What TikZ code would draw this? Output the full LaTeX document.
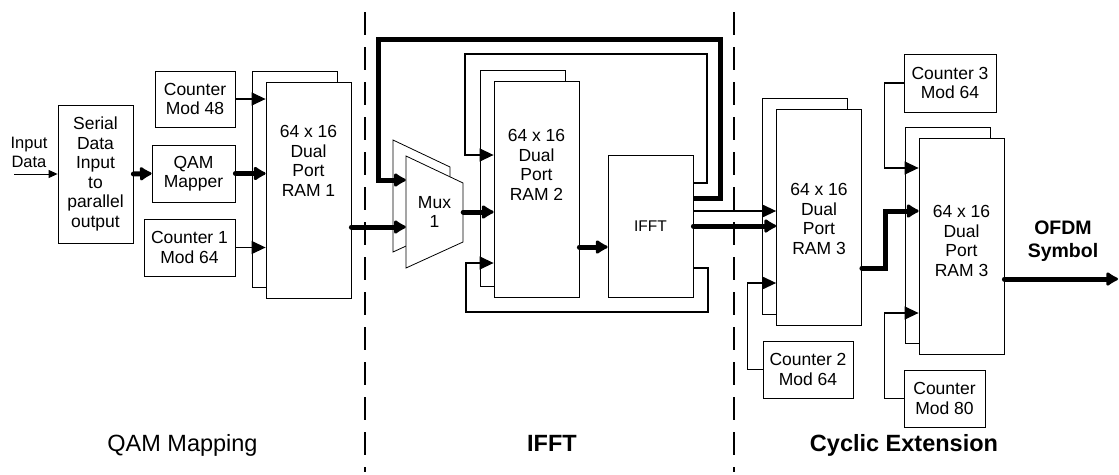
\documentclass[tikz,border=0pt]{standalone}
\usepackage{fontspec}
\setmainfont{Liberation Sans}
\usetikzlibrary{arrows.meta, calc, shadows}

\begin{document}
\begin{tikzpicture}[
    x=1pt, y=-1pt,
    box/.style={rectangle, draw, line width=0.8pt, fill=white, align=center, inner sep=0pt, font=\fontsize{17.5pt}{19.5pt}\selectfont},
    ram/.style={box, minimum width=85pt, minimum height=216pt, copy shadow={shadow xshift=-14pt, shadow yshift=11pt, draw=black, fill=white, line width=0.8pt}},
    ramtext/.style={align=center, inner sep=0pt, font=\fontsize{17.5pt}{19.5pt}\selectfont},
    muxbody/.style={draw, fill=white, line width=0.8pt},
    inarrow/.style={-{Triangle[length=9pt, width=8pt]}, line width=1pt},
    link/.style={-{Triangle[length=14pt, width=13pt]}, line width=1.2pt},
    bus/.style={-{Latex[length=14pt, width=17pt, round]}, line width=5pt, line cap=round},
    divider/.style={line width=2.8pt, dash pattern=on 23pt off 12pt},
    stage/.style={anchor=base, font=\fontsize{23.5pt}{28pt}\selectfont}
]
\useasboundingbox (0,0) rectangle (1119,474);

% Stage dividers
\draw[divider] (365,12) -- (365,472);
\draw[divider] (734,12) -- (734,472);

% QAM mapping stage
\node[ramtext, font=\fontsize{16.5pt}{19pt}\selectfont] (indata) at (29,152) {Input\\Data};
\coordinate (inpt) at (14,174);
\node[box, minimum width=75pt, minimum height=138pt] (serial) at (95.5,174) {Serial\\Data\\Input\\to\\parallel\\output};
\node[box, minimum width=80pt, minimum height=56pt] (cnt48) at (195,99) {Counter\\Mod 48};
\node[box, minimum width=83pt, minimum height=57pt] (qam) at (193.5,173.5) {QAM\\Mapper};
\node[box, minimum width=91pt, minimum height=57pt] (cnt1) at (189.5,247.5) {Counter 1\\Mod 64};
\node[ram, label={[ramtext, yshift=29pt]center:64 x 16\\Dual\\Port\\RAM 1}] (ram1) at (308.5,190) {};

% IFFT stage
\foreach \dx/\dy in {-13/-16, 0/0}
  \filldraw[muxbody, shift={(\dx,\dy)}] (406,156) -- (463,183) -- (463,242) -- (406,268) -- cycle;
\node[ramtext, minimum width=57pt, minimum height=112pt] (mux) at (434.5,212) {Mux\\1};
\coordinate (muxa) at ($(mux.west)+(0,-32)$);
\coordinate (muxb) at ($(mux.west)+(0,15)$);
\node[ram, label={[ramtext, yshift=24pt]center:64 x 16\\Dual\\Port\\RAM 2}] (ram2) at (536.5,189) {};
\node[box, minimum width=85pt, minimum height=142pt, font=\fontsize{15.5pt}{18pt}\selectfont] (ifft) at (650.5,226) {IFFT};
\coordinate (ifftq) at ($(ifft.east)+(0,-15)$);

% Cyclic extension stage
\node[ram, label={[ramtext, yshift=-1.5pt]center:64 x 16\\Dual\\Port\\RAM 3}] (ram3a) at (819,217.5) {};
\node[box, minimum width=90pt, minimum height=57pt] (cnt2) at (808,369.5) {Counter 2\\Mod 64};
\node[ram, label={[ramtext, yshift=5pt]center:64 x 16\\Dual\\Port\\RAM 3}] (ram3b) at (961.5,246) {};
\node[box, minimum width=92pt, minimum height=58pt] (cnt3) at (950,83) {Counter 3\\Mod 64};
\node[box, minimum width=81pt, minimum height=57pt] (cnt80) at (944.5,398.5) {Counter\\Mod 80};
\node[align=center, font=\bfseries\fontsize{19.5pt}{23pt}\selectfont] (ofdm) at (1063,241) {OFDM\\Symbol};
\coordinate (ofdmend) at (1118,279);

% Arrows in QAM mapping
\draw[inarrow] (inpt) -- (serial.west);
\draw[bus] (serial.east) -- (qam.west);
\draw[bus] (qam.east) -- (qam.east -| ram1.west);
\draw[link] (cnt48.east) -- (cnt48.east -| ram1.west);
\draw[link] (cnt1.east) -- (cnt1.east -| ram1.west);
\draw[bus] (ram1.east |- muxb) -- (muxb);

% Arrows in IFFT
\draw[bus] (mux.east) -- (mux.east -| ram2.west);
\draw[bus] ($(ram2.east)+(0,58)$) -- ($(ifft.west)+(0,21)$);
\draw[bus, line cap=butt] ($(ifft.east)+(0,-28)$) -| (720,39) -- (378,39) |- (muxa);
\draw[link] ($(ifft.east)+(0,-43)$) -| (707,54) -- (465,54) |- ($(ram2.west)+(0,-34)$);
\draw[link] ($(ifft.east)+(0,42)$) -| (708,312) -- (466,312) |- ($(ram2.west)+(0,74)$);

% Arrows in cyclic extension
\draw[link] (ifftq) -- (ifftq -| ram3a.west);
\draw[bus] (ifft.east) -- (ifft.east -| ram3a.west);
\draw[link] (cnt2.west) -- ++(-15,0) |- ($(ram3a.west)+(0,65.5)$);
\draw[bus] ($(ram3a.east)+(0,50.5)$) -- ++(24,0) |- ($(ram3b.west)+(0,-35)$);
\draw[link] (cnt3.west) -- ++(-19,0) |- ($(ram3b.west)+(0,-78)$);
\draw[link] (cnt80.west) -- ++(-19,0) |- ($(ram3b.west)+(0,67)$);
\draw[bus] ($(ram3b.east)+(0,33)$) -- (ofdmend);

% Stage labels
\node[stage] (lqam) at (182.5,451) {QAM Mapping};
\node[stage, font=\bfseries\fontsize{23.5pt}{28pt}\selectfont] (lifft) at (552,451) {IFFT};
\node[stage, font=\bfseries\fontsize{23.5pt}{28pt}\selectfont] (lcyc) at (904,451) {Cyclic Extension};

\end{tikzpicture}
\end{document}
